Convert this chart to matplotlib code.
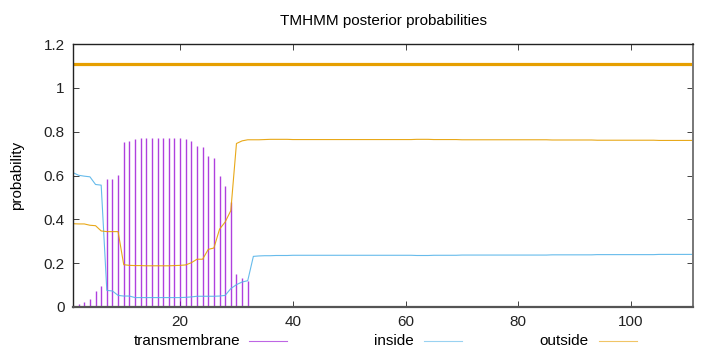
import numpy as np
import matplotlib.pyplot as plt
from matplotlib.lines import Line2D

plt.rcParams['font.family'] = ['Liberation Sans', 'DejaVu Sans']

# residue positions 1..111
pos = np.arange(1, 112)

transmembrane = [
    0.010, 0.015, 0.023, 0.035, 0.072, 0.094, 0.583, 0.583, 0.601, 0.753,
    0.759, 0.766, 0.769, 0.769, 0.769, 0.770, 0.769, 0.769, 0.769, 0.769,
    0.766, 0.758, 0.734, 0.729, 0.688, 0.679, 0.597, 0.554, 0.479, 0.152,
    0.134, 0.119, 0.006, 0.004, 0.002, 0.001, 0.003, 0.001, 0.000, 0.000,
    0.000, 0.000, 0.000, 0.000, 0.000, 0.000, 0.000, 0.000, 0.000, 0.000,
    0.000, 0.000, 0.000, 0.000, 0.000, 0.000, 0.000, 0.000, 0.000, 0.000,
    0.000, 0.000, 0.000, 0.000, 0.000, 0.000, 0.000, 0.000, 0.000, 0.000,
    0.000, 0.000, 0.000, 0.000, 0.000, 0.000, 0.000, 0.000, 0.000, 0.000,
    0.000, 0.000, 0.000, 0.000, 0.000, 0.000, 0.000, 0.000, 0.000, 0.000,
    0.000, 0.000, 0.000, 0.000, 0.000, 0.000, 0.000, 0.000, 0.000, 0.000,
    0.000, 0.000, 0.000, 0.000, 0.000, 0.000, 0.000, 0.000, 0.000, 0.000,
    0.000,
]

inside = [
    0.613, 0.601, 0.597, 0.594, 0.559, 0.556, 0.076, 0.073, 0.053, 0.050,
    0.050, 0.043, 0.043, 0.043, 0.043, 0.043, 0.043, 0.043, 0.043, 0.043,
    0.044, 0.046, 0.049, 0.049, 0.049, 0.049, 0.050, 0.053, 0.084, 0.102,
    0.114, 0.120, 0.231, 0.233, 0.234, 0.234, 0.235, 0.235, 0.235, 0.236,
    0.236, 0.236, 0.236, 0.236, 0.236, 0.236, 0.236, 0.236, 0.236, 0.236,
    0.236, 0.236, 0.236, 0.236, 0.236, 0.236, 0.236, 0.236, 0.236, 0.236,
    0.236, 0.235, 0.235, 0.235, 0.236, 0.236, 0.236, 0.236, 0.236, 0.237,
    0.237, 0.237, 0.237, 0.237, 0.237, 0.237, 0.237, 0.237, 0.237, 0.237,
    0.237, 0.237, 0.237, 0.237, 0.237, 0.238, 0.238, 0.238, 0.238, 0.238,
    0.238, 0.238, 0.238, 0.239, 0.239, 0.239, 0.239, 0.239, 0.239, 0.239,
    0.239, 0.239, 0.239, 0.239, 0.240, 0.240, 0.240, 0.240, 0.240, 0.240,
    0.240,
]

outside = [
    0.380, 0.379, 0.379, 0.373, 0.371, 0.347, 0.344, 0.344, 0.344, 0.193,
    0.190, 0.189, 0.189, 0.188, 0.188, 0.188, 0.188, 0.188, 0.189, 0.190,
    0.192, 0.202, 0.218, 0.218, 0.263, 0.269, 0.355, 0.388, 0.440, 0.746,
    0.758, 0.763, 0.763, 0.763, 0.764, 0.765, 0.765, 0.765, 0.765, 0.764,
    0.764, 0.764, 0.764, 0.764, 0.764, 0.764, 0.764, 0.764, 0.764, 0.764,
    0.764, 0.764, 0.764, 0.764, 0.764, 0.764, 0.764, 0.764, 0.764, 0.764,
    0.764, 0.765, 0.765, 0.765, 0.764, 0.764, 0.764, 0.764, 0.764, 0.763,
    0.763, 0.763, 0.763, 0.763, 0.763, 0.763, 0.763, 0.763, 0.763, 0.763,
    0.763, 0.763, 0.763, 0.763, 0.763, 0.762, 0.762, 0.762, 0.762, 0.762,
    0.762, 0.762, 0.762, 0.761, 0.761, 0.761, 0.761, 0.761, 0.761, 0.761,
    0.761, 0.761, 0.761, 0.761, 0.760, 0.760, 0.760, 0.760, 0.760, 0.760,
    0.760,
]

# predicted topology: whole sequence outside
topo_start = [1]
topo_end = [111]
topo_level = 1.11

c_tm = '#9400d3'
c_in = '#56b4e9'
c_out = '#e69f00'

fig = plt.figure(figsize=(7.2, 3.52), dpi=100)
ax = fig.add_axes([73/720, 1-307/352, 620/720, 263/352])

ax.vlines(pos, 0, transmembrane, color=c_tm, lw=1.0, alpha=0.75)
ax.plot(pos, inside, color=c_in, lw=0.8, alpha=0.9)
ax.plot(pos, outside, color=c_out, lw=0.8, alpha=0.9)
ax.hlines(topo_level, topo_start, topo_end, color=c_out, lw=2.3)

ax.set_xlim(1, 111)
ax.set_ylim(0, 1.2)
ax.set_xticks([20, 40, 60, 80, 100])
ax.set_yticks([0, 0.2, 0.4, 0.6, 0.8, 1.0, 1.2])
ax.set_yticklabels(['0', '0.2', '0.4', '0.6', '0.8', '1', '1.2'])
ax.tick_params(direction='in', top=True, right=True, length=4, width=0.6,
               labelsize=11, pad=6, colors='#222222')
for s in ax.spines.values():
    s.set_linewidth(1.0)
    s.set_color('#222222')
ax.spines['bottom'].set_color('#555555')
ax.spines['bottom'].set_linewidth(1.6)
ax.spines['right'].set_color('#777777')
ax.spines['right'].set_linewidth(1.4)

ax.set_ylabel('probability', fontsize=11, labelpad=14)
ax.set_title('TMHMM posterior probabilities', fontsize=11, pad=14)

# legend row below the axis
legend = [('transmembrane', c_tm, 240, 249), ('inside', c_in, 414, 424),
          ('outside', c_out, 589, 599)]
for name, col, tx, lx in legend:
    fig.text(tx/720, 1-341/352, name, ha='right', va='center', fontsize=11)
    fig.add_artist(Line2D([lx/720, (lx+38)/720], [1-341/352, 1-341/352],
                          color=col, lw=0.8, alpha=0.6))

plt.savefig('out.png', dpi=100)
